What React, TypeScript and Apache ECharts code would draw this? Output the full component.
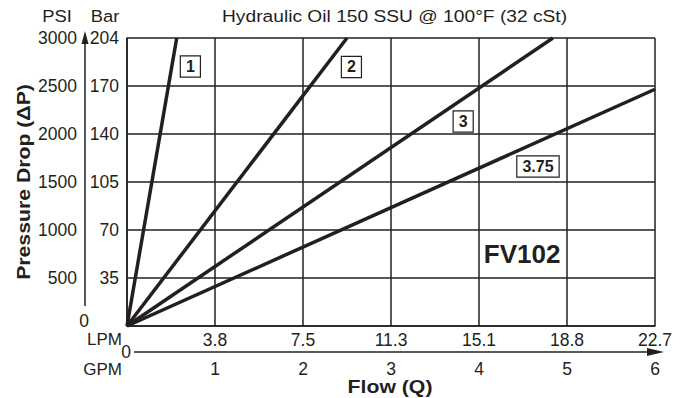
import React, { useEffect, useRef } from "react";
import * as echarts from "echarts";

const psiLabels = ["", "500", "1000", "1500", "2000", "2500", "3000"];
const barLabels = ["", "35", "70", "105", "140", "170", "204"];
const lpmLabels = ["", "3.8", "7.5", "11.3", "15.1", "18.8", "22.7"];
const gpmLabels = ["", "1", "2", "3", "4", "5", "6"];

const curveNames = ["1", "2", "3", "3.75"];
const curve1 = [[0, 0], [0.565, 3000]];
const curve2 = [[0, 0], [2.5, 3000]];
const curve3 = [[0, 0], [4.84, 3000]];
const curve375 = [[0, 0], [6, 2466]];

const curveLabels = [
  { text: "1", flow: 0.72, psi: 2703 },
  { text: "2", flow: 2.55, psi: 2698 },
  { text: "3", flow: 3.82, psi: 2130 },
  { text: "3.75", flow: 4.67, psi: 1661 },
];
const modelLabel = { text: "FV102", flow: 4.49, psi: 745 };

const INK = "#231f20";
const FONT = "'Liberation Sans', Arial, Helvetica, sans-serif";
const TICK = 17.5;

export default function App() {
  const ref = useRef<HTMLDivElement>(null);
  useEffect(() => {
    if (!ref.current) return;
    const chart = echarts.init(ref.current, undefined, { renderer: "svg" });
    const lineSeries = [curve1, curve2, curve3, curve375].map((d, i) => ({
      name: curveNames[i],
      type: "line",
      data: d,
      symbol: "none",
      lineStyle: { color: INK, width: 3.5 },
      z: 5,
    }));
    const txt = (extra: any) => ({ fontFamily: FONT, fill: INK, ...extra });
    chart.setOption({
      animation: false,
      backgroundColor: "#ffffff",
      textStyle: { fontFamily: FONT, color: INK },
      grid: { left: 127, top: 38, width: 528, height: 288, containLabel: false },
      xAxis: [
        {
          type: "value",
          min: 0,
          max: 6,
          interval: 1,
          position: "bottom",
          axisLine: { show: true, lineStyle: { color: INK, width: 1.5 } },
          axisTick: { show: false },
          splitLine: { show: true, lineStyle: { color: INK, width: 1.5 } },
          axisLabel: {
            margin: 5,
            fontSize: TICK,
            color: INK,
            fontFamily: FONT,
            formatter: (v: number) => lpmLabels[Math.round(v)] ?? "",
          },
        },
        {
          type: "value",
          min: 0,
          max: 6,
          interval: 1,
          position: "bottom",
          axisLine: { show: false },
          axisTick: { show: false },
          splitLine: { show: false },
          axisLabel: {
            margin: 34,
            fontSize: TICK,
            color: INK,
            fontFamily: FONT,
            formatter: (v: number) => gpmLabels[Math.round(v)] ?? "",
          },
        },
      ],
      yAxis: [
        {
          type: "value",
          min: 0,
          max: 3000,
          interval: 500,
          position: "left",
          axisLine: { show: true, lineStyle: { color: INK, width: 1.5 } },
          axisTick: { show: false },
          splitLine: { show: true, lineStyle: { color: INK, width: 1.5 } },
          axisLabel: {
            margin: 50,
            fontSize: TICK,
            color: INK,
            fontFamily: FONT,
            formatter: (v: number) => psiLabels[Math.round(v / 500)] ?? "",
          },
        },
        {
          type: "value",
          min: 0,
          max: 3000,
          interval: 500,
          position: "left",
          axisLine: { show: false },
          axisTick: { show: false },
          splitLine: { show: false },
          axisLabel: {
            margin: 8,
            fontSize: TICK,
            color: INK,
            fontFamily: FONT,
            formatter: (v: number) => barLabels[Math.round(v / 500)] ?? "",
          },
        },
      ],
      series: [
        ...lineSeries,
        {
          type: "scatter",
          symbolSize: 0,
          z: 6,
          itemStyle: { opacity: 1, color: INK },
          data: curveLabels.map((l) => [l.flow, l.psi, l.text]),
          label: {
            show: true,
            position: "inside",
            formatter: (p: any) => p.value[2],
            fontSize: 16,
            fontWeight: "bold",
            color: INK,
            opacity: 1,
            fontFamily: FONT,
            backgroundColor: "#ffffff",
            borderColor: INK,
            borderWidth: 1.2,
            padding: [3, 5, 1, 5],
          },
        },
        {
          type: "scatter",
          symbolSize: 0,
          z: 6,
          itemStyle: { opacity: 1, color: INK },
          data: [[modelLabel.flow, modelLabel.psi, modelLabel.text]],
          label: {
            show: true,
            position: "inside",
            formatter: (p: any) => p.value[2],
            fontSize: 26,
            fontWeight: "bold",
            color: INK,
            opacity: 1,
            fontFamily: FONT,
          },
        },
      ],
      graphic: [
        { type: "text", x: 57, y: 16, scaleX: 1.08, style: txt({ text: "PSI", fontSize: 17, align: "center", verticalAlign: "middle" }) },
        { type: "text", x: 105, y: 16, scaleX: 1.08, style: txt({ text: "Bar", fontSize: 17, align: "center", verticalAlign: "middle" }) },
        { type: "text", x: 222, y: 16, scaleX: 1.13, style: txt({ text: "Hydraulic Oil 150 SSU @ 100°F (32 cSt)", fontSize: 17, align: "left", verticalAlign: "middle" }) },
        { type: "text", x: 84, y: 321, style: txt({ text: "0", fontSize: TICK, align: "center", verticalAlign: "middle" }) },
        { type: "line", shape: { x1: 85, y1: 306, x2: 85, y2: 40 }, style: { stroke: INK, lineWidth: 1.5 } },
        { type: "polygon", shape: { points: [[85, 31], [81.5, 44], [88.5, 44]] }, style: { fill: INK } },
        { type: "text", x: 122, y: 339, style: txt({ text: "LPM", fontSize: 17, align: "right", verticalAlign: "middle" }) },
        { type: "text", x: 122, y: 369, style: txt({ text: "GPM", fontSize: 17, align: "right", verticalAlign: "middle" }) },
        { type: "text", x: 126, y: 352, style: txt({ text: "0", fontSize: TICK, align: "center", verticalAlign: "middle" }) },
        { type: "line", shape: { x1: 134, y1: 352, x2: 652, y2: 352 }, style: { stroke: INK, lineWidth: 1.5 } },
        { type: "polygon", shape: { points: [[664, 352], [647, 348], [647, 356]] }, style: { fill: INK } },
        { type: "text", x: 390, y: 387, scaleX: 1.18, style: txt({ text: "Flow (Q)", fontSize: 18, fontWeight: "bold", align: "center", verticalAlign: "middle" }) },
        { type: "text", x: 24, y: 182, rotation: Math.PI / 2, scaleX: 1.18, style: txt({ text: "Pressure Drop (ΔP)", fontSize: 18, fontWeight: "bold", align: "center", verticalAlign: "middle" }) },
      ],
    });
    return () => chart.dispose();
  }, []);
  return <div ref={ref} style={{ position: "fixed", left: 0, top: 0, width: 685, height: 398 }} />;
}
